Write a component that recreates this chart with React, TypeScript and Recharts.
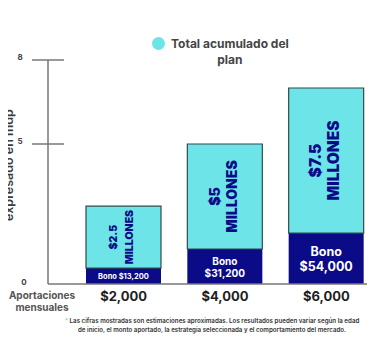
import { BarChart, Bar, XAxis, YAxis, Legend, LabelList } from "recharts";

/** aportación mensual y alturas (millones) */
const aportaciones = ["$2,000", "$4,000", "$6,000"];
const bono = [0.57, 1.25, 1.82];
const totalAcumulado = [2.78, 5.0, 7.0];
const montoTexto = ["$2.5", "$5", "$7.5"];
const bonoTexto = ["$13,200", "$31,200", "$54,000"];
const yTicks = [0, 5, 8];

const TEAL = "#6de5e8";
const NAVY = "#0b0b88";
const OUTLINE = "#2e4a4b";
const AXIS = "#777";
const FONT = "Inter, 'Noto Sans', sans-serif";

// tamaños de texto por barra (la imagen los escala con la barra)
const montoSize = [10.5, 14, 15.5];
const montoGap = [16, 17, 18];
const bonoSize = [7.5, 10, 12.5];

const rows = aportaciones.map((a, i) => ({
  aportacion: a,
  bono: bono[i],
  resto: +(totalAcumulado[i] - bono[i]).toFixed(2),
}));

const XTick = ({ x, y, payload }: any) => (
  <text x={x} y={y + 12} textAnchor="middle" dominantBaseline="central" fontSize={13} fontWeight={700} fill="#1e1e1e" fontFamily={FONT}>
    {payload.value}
  </text>
);

const YTick = ({ x, y, payload }: any) => {
  const v = payload.value;
  const txt = { fontSize: 8, fontWeight: 700, fill: "#444", fontFamily: FONT };
  if (v === 0)
    return (
      <text x={x - 24} y={y - 2} textAnchor="middle" dominantBaseline="central" {...txt}>
        0
      </text>
    );
  return (
    <g>
      <line x1={x - 16} x2={x + 16} y1={y} y2={y} stroke={AXIS} strokeWidth={1.5} />
      <text x={x - 28} y={y - 3} textAnchor="middle" dominantBaseline="central" {...txt}>
        {v}
      </text>
    </g>
  );
};

const MontoLabel = (props: any) => {
  const { x, y, width, height, index } = props;
  const cx = x + width / 2 - 2;
  const cy = y + height / 2;
  const g = montoGap[index];
  const st = { fontSize: montoSize[index], fontWeight: 900, fill: NAVY, fontFamily: FONT };
  return (
    <g transform={`translate(${cx},${cy}) rotate(-90)`}>
      <text x={0} y={-g / 2} textAnchor="middle" dominantBaseline="central" {...st}>
        {montoTexto[index]}
      </text>
      <text x={0} y={g / 2} textAnchor="middle" dominantBaseline="central" {...st}>
        MILLONES
      </text>
    </g>
  );
};

const BonoLabel = (props: any) => {
  const { x, y, width, height, index } = props;
  const cx = x + width / 2;
  const cy = y + height / 2;
  const st = { fontSize: bonoSize[index], fontWeight: 700, fill: "#fff", fontFamily: FONT };
  if (index === 0)
    return (
      <text x={cx} y={cy} textAnchor="middle" dominantBaseline="central" {...st}>
        Bono {bonoTexto[index]}
      </text>
    );
  const lh = bonoSize[index] * 1.2;
  return (
    <g>
      <text x={cx} y={cy - lh / 2} textAnchor="middle" dominantBaseline="central" {...st}>
        Bono
      </text>
      <text x={cx} y={cy + lh / 2} textAnchor="middle" dominantBaseline="central" {...st}>
        {bonoTexto[index]}
      </text>
    </g>
  );
};

const LegendBox = () => (
  <div style={{ display: "flex", fontFamily: FONT }}>
    <span style={{ width: 13, height: 13, borderRadius: "50%", background: TEAL, marginTop: 1, marginRight: 6 }} />
    <div style={{ textAlign: "center", fontSize: 12, lineHeight: "16px", fontWeight: 700, color: "#454545", whiteSpace: "nowrap" }}>
      Total acumulado del
      <br />
      plan
    </div>
  </div>
);

export default function App() {
  return (
    <div style={{ position: "relative", width: 375, height: 355, margin: "-8px 0 0 -8px", background: "#fff", fontFamily: FONT }}>
      <BarChart width={375} height={355} data={rows} margin={{ top: 60, right: 8, bottom: 41, left: 0 }}>
        <XAxis
          dataKey="aportacion"
          height={30}
          tickSize={0}
          tickMargin={0}
          tickLine={false}
          axisLine={{ stroke: AXIS, strokeWidth: 1.5 }}
          padding={{ left: 25, right: -10 }}
          tick={<XTick />}
        />
        <YAxis
          width={48}
          domain={[0, 8]}
          ticks={yTicks}
          tickSize={0}
          tickMargin={0}
          tickLine={false}
          axisLine={{ stroke: AXIS, strokeWidth: 1.5 }}
          tick={<YTick />}
        />
        <Legend verticalAlign="middle" align="center" layout="horizontal" wrapperStyle={{ top: 36, left: 152, width: 160 }} content={<LegendBox />} />
        <Bar dataKey="bono" stackId="a" fill={NAVY} barSize={75} isAnimationActive={false}>
          <LabelList content={<BonoLabel />} />
        </Bar>
        <Bar dataKey="resto" stackId="a" fill={TEAL} stroke={OUTLINE} strokeWidth={1.2} barSize={75} isAnimationActive={false}>
          <LabelList content={<MontoLabel />} />
        </Bar>
      </BarChart>
      <svg width={20} height={150} style={{ position: "absolute", left: 0, top: 90 }}>
        <text
          x={8}
          y={75}
          transform="rotate(-90, 8, 75)"
          textAnchor="middle"
          dominantBaseline="central"
          fontSize={12.5}
          fontWeight={600}
          fill="#3c3c3c"
          fontFamily={FONT}
        >
          expresado en mdp
        </text>
      </svg>
      <div style={{ position: "absolute", left: 0, top: 289, width: 84, textAlign: "center", fontSize: 10, lineHeight: "12px", fontWeight: 700, color: "#555" }}>
        Aportaciones
        <br />
        mensuales
      </div>
      <div style={{ position: "absolute", left: 52, top: 317, width: 320, textAlign: "center", fontSize: 6.2, lineHeight: "8.5px", fontWeight: 600, color: "#333" }}>
        <span style={{ color: TEAL }}>* </span>Las cifras mostradas son estimaciones aproximadas. Los resultados pueden variar según la edad
        <br />
        de inicio, el monto aportado, la estrategia seleccionada y el comportamiento del mercado.
      </div>
    </div>
  );
}
